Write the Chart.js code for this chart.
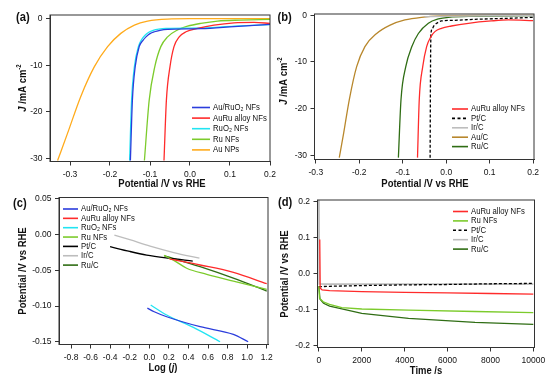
<!DOCTYPE html>
<html>
<head>
<meta charset="utf-8">
<script src="https://cdn.jsdelivr.net/npm/chart.js@4.4.1/dist/chart.umd.min.js"></script>
<style>
  body { margin: 0; background: #fff; }
  #wrap { position: relative; width: 554px; height: 383px; }
  canvas { position: absolute; left: 0; top: 0; }
</style>
</head>
<body>
<div id="wrap">
  <canvas id="ca" width="554" height="383"></canvas>
  <canvas id="cb" width="554" height="383"></canvas>
  <canvas id="cc" width="554" height="383"></canvas>
  <canvas id="cd" width="554" height="383"></canvas>
</div>
<script>
// ---- panel (a): LSV, J vs potential ----
const aLabels = ['Au/RuO\u2082 NFs', 'AuRu alloy NFs', 'RuO\u2082 NFs', 'Ru NFs', 'Au NPs'];
const aAuRuO2X = [-0.149, -0.144, -0.137, -0.127, -0.118, -0.110, -0.100, -0.089, -0.075, -0.056, 0.027, 0.11, 0.2];
const aAuRuO2Y = [-30.5, -17.5, -10.3, -6.0, -4.7, -3.9, -3.2, -2.8, -2.5, -2.3, -2.15, -1.7, -1.2];
const aAuRuX = [-0.065, -0.059, -0.05, -0.04, -0.027, -0.01, 0.019, 0.06, 0.11, 0.16, 0.2];
const aAuRuY = [-30.5, -17.5, -10.3, -6.0, -3.9, -2.8, -2.1, -1.4, -0.9, -0.8, -1.0];
const aRuO2X = [-0.151, -0.146, -0.139, -0.129, -0.121, -0.113, -0.103, -0.092, -0.078, -0.06, 0.03, 0.11, 0.2];
const aRuO2Y = [-30.5, -17.5, -10.3, -6.0, -4.5, -3.6, -2.9, -2.5, -2.25, -2.1, -2.0, -1.6, -1.25];
const aRuX = [-0.114, -0.102, -0.088, -0.073, -0.056, -0.031, -0.006, 0.027, 0.069, 0.127, 0.2];
const aRuY = [-30.5, -17.5, -10.3, -6.0, -3.9, -2.4, -1.6, -1.0, -0.5, -0.29, -0.14];
const aAuX = [-0.331, -0.306, -0.273, -0.239, -0.206, -0.173, -0.139, -0.106, -0.056, 0.0, 0.2];
const aAuY = [-30.5, -24.6, -16.7, -10.3, -6.0, -3.15, -1.36, -0.5, -0.07, 0.0, 0.0];
const aXTicks = [-0.3, -0.2, -0.1, 0.0, 0.1, 0.2];
const aYTicks = [-30, -20, -10, 0];

// ---- panel (b): LSV of commercial catalysts ----
const bLabels = ['AuRu alloy NFs', 'Pt/C', 'Ir/C', 'Au/C', 'Ru/C'];
const bAuRuX = [-0.066, -0.062, -0.054, -0.045, -0.035, -0.026, -0.011, 0.012, 0.051, 0.104, 0.143, 0.2];
const bAuRuY = [-30.5, -18.1, -11.0, -6.7, -4.57, -3.5, -2.79, -2.29, -1.71, -1.21, -1.0, -1.14];
const bPtX = [-0.037, -0.036, -0.035, -0.032, -0.028, -0.022, -0.011, 0.02, 0.066, 0.143, 0.2];
const bPtY = [-30.5, -10, -3.9, -2.9, -2.2, -1.71, -1.21, -1.07, -0.86, -0.64, -0.43];
const bIrX = [-0.05, 0.0, 0.1, 0.2];
const bIrY = [-0.3, -0.2, -0.1, -0.05];
const bAuX = [-0.246, -0.236, -0.223, -0.206, -0.187, -0.16, -0.129, -0.095, -0.057, -0.011, 0.1, 0.2];
const bAuY = [-30.5, -25.3, -18.1, -11.0, -6.7, -3.9, -2.1, -1.0, -0.43, -0.14, -0.02, 0];
const bRuX = [-0.110, -0.104, -0.093, -0.079, -0.064, -0.041, -0.018, 0.005, 0.066, 0.2];
const bRuY = [-30.5, -18.1, -11.0, -6.7, -3.9, -1.7, -0.79, -0.43, -0.21, -0.07];
const bXTicks = [-0.3, -0.2, -0.1, 0.0, 0.1, 0.2];
const bYTicks = [-30, -20, -10, 0];

// ---- panel (c): Tafel plots ----
const cLabels = ['Au/RuO\u2082 NFs', 'AuRu alloy NFs', 'RuO\u2082 NFs', 'Ru NFs', 'Pt/C', 'Ir/C', 'Ru/C'];
const cAuRuO2X = [-0.02, 0.05, 0.178, 0.519, 0.859, 1.01];
const cAuRuO2Y = [-0.103, -0.108, -0.115, -0.129, -0.1397, -0.15];
const cAuRuX = [0.205, 0.519, 0.86, 1.2];
const cAuRuY = [-0.034, -0.0425, -0.0528, -0.0687];
const cRuO2X = [0.014, 0.178, 0.45, 0.723];
const cRuO2Y = [-0.0986, -0.1126, -0.130, -0.15];
const cRuX = [0.15, 0.263, 0.382, 0.587, 0.859, 1.2];
const cRuY = [-0.029, -0.037, -0.047, -0.0556, -0.065, -0.0766];
const cPtX = [-0.401, -0.2, -0.027, 0.2, 0.444];
const cPtY = [-0.0168, -0.0235, -0.0285, -0.033, -0.037];
const cIrX = [-0.357, -0.2, 0.008, 0.25, 0.512];
const cIrY = [-0.0005, -0.007, -0.016, -0.025, -0.033];
const cRuCX = [0.151, 0.519, 0.859, 1.2];
const cRuCY = [-0.0294, -0.0449, -0.061, -0.079];
const cXTicks = [-0.8, -0.6, -0.4, -0.2, 0.0, 0.2, 0.4, 0.6, 0.8, 1.0, 1.2];
const cYTicks = [0.05, 0.00, -0.05, -0.10, -0.15];

// ---- panel (d): chronopotentiometry ----
const dLabels = ['AuRu alloy NFs', 'Ru NFs', 'Pt/C', 'Ir/C', 'Ru/C'];
const dAuRuT = [40, 60, 150, 500, 2000, 4000, 6000, 8000, 10000];
const dAuRuY = [0.095, -0.04, -0.045, -0.047, -0.05, -0.052, -0.053, -0.055, -0.057];
const dRuT = [0, 30, 200, 500, 1070, 2000, 4180, 7280, 10000];
const dRuY = [-0.035, -0.068, -0.078, -0.085, -0.094, -0.098, -0.101, -0.105, -0.108];
const dPtT = [0, 500, 2000, 4000, 6000, 8000, 10000];
const dPtY = [-0.036, -0.035, -0.033, -0.031, -0.030, -0.028, -0.027];
const dIrT = [0, 20, 500, 10000];
const dIrY = [0.21, -0.028, -0.029, -0.029];
const dRuCT = [0, 50, 217, 500, 1070, 2000, 4180, 7280, 10000];
const dRuCY = [-0.035, -0.07, -0.082, -0.09, -0.098, -0.11, -0.124, -0.135, -0.141];
const dXTicks = [0, 2000, 4000, 6000, 8000, 10000];
const dYTicks = [0.2, 0.1, 0.0, -0.1, -0.2];

const C = {
  blue: '#2b3ddc', red: '#ff2b2b', cyan: '#22e4f2', green: '#7ccb2c', orange: '#ffab1c',
  brown: '#b8872c', dkgreen: '#2f6d14', black: '#000000', gray: '#bdbdbd'
};

const SQ = 0.86; // the figure's text is a little condensed
const TICK_FONT = "'Liberation Sans', Arial, sans-serif";

function pts(xs, ys) { return xs.map((x, i) => ({ x: x, y: ys[i] })); }

function ds(label, xs, ys, color, extra) {
  return Object.assign({
    label: label, data: pts(xs, ys), borderColor: color, backgroundColor: color,
    borderWidth: 1.3, pointRadius: 0, fill: false, cubicInterpolationMode: 'monotone'
  }, extra || {});
}

function rich(ctx, x, y, segs, opt) {
  opt = opt || {};
  ctx.save();
  ctx.translate(x, y);
  if (opt.rot) ctx.rotate(-Math.PI / 2);
  ctx.scale(SQ, 1);
  let w = 0;
  segs.forEach(s => { ctx.font = s.f; w += ctx.measureText(s.t).width; });
  let cx = opt.left ? 0 : -w / 2;
  ctx.textBaseline = 'middle';
  ctx.fillStyle = '#111';
  segs.forEach(s => {
    ctx.font = s.f;
    ctx.fillText(s.t, cx, s.dy || 0);
    cx += ctx.measureText(s.t).width;
  });
  ctx.restore();
}

const B11 = "bold 11px 'Liberation Sans', Arial, sans-serif";
const BI11 = "italic bold 11px 'Liberation Sans', Arial, sans-serif";
const B7 = "bold 7px 'Liberation Sans', Arial, sans-serif";
const B13 = "bold 13px 'Liberation Sans', Arial, sans-serif";
const N9 = "9px 'Liberation Sans', Arial, sans-serif";

function legend(chart, lg) {
  const ctx = chart.ctx;
  chart.data.datasets.forEach((d, i) => {
    const y = lg.y + i * lg.dy;
    ctx.save();
    ctx.strokeStyle = d.borderColor;
    ctx.lineWidth = 1.6;
    if (d.borderDash) ctx.setLineDash([3, 2.5]);
    ctx.beginPath();
    ctx.moveTo(lg.x, y);
    ctx.lineTo(lg.x + lg.len, y);
    ctx.stroke();
    ctx.restore();
    rich(ctx, lg.x + lg.len + 3, y, [{ t: d.label, f: N9 }], { left: true });
  });
}

const decor = {
  id: 'decor',
  afterDraw(chart) {
    const ctx = chart.ctx, a = chart.chartArea, o = chart.options.plugins.decor;
    ctx.save();
    ctx.strokeStyle = '#333';
    ctx.lineWidth = 1;
    ctx.strokeRect(a.left, a.top, a.right - a.left, a.bottom - a.top);
    ctx.restore();
    legend(chart, o.legend);
    rich(ctx, o.letter[0], o.letter[1], [{ t: o.letter[2], f: B13 }], { left: true });
    rich(ctx, o.xt[0], o.xt[1], o.xt[2]);
    rich(ctx, o.yt[0], o.yt[1], o.yt[2], { rot: true });
  }
};

function axis(min, max, ticks, dec, pos, size) {
  return {
    type: 'linear', min: min, max: max,
    afterBuildTicks: s => { s.ticks = ticks.map(v => ({ value: v })); },
    afterFit: s => { if (pos === 'x') s.height = size; else s.width = size; },
    ticks: {
      autoSkip: false, maxRotation: 0, padding: pos === 'x' ? 4 : 3.5, color: '#111',
      font: { family: TICK_FONT, size: 8.5 },
      callback: v => v.toFixed(dec)
    },
    grid: { drawOnChartArea: false, drawTicks: true, tickLength: 4, color: '#333' },
    border: { display: true, color: '#333', width: 1 }
  };
}

function make(id, box, xa, ya, datasets, deco) {
  new Chart(document.getElementById(id), {
    type: 'line',
    data: { datasets: datasets },
    options: {
      responsive: false, animation: false, parsing: true,
      layout: { padding: { left: box.L - 30, right: 554 - box.R, top: box.T, bottom: 383 - box.B - 30 } },
      scales: { x: xa, y: ya },
      plugins: { legend: { display: false }, tooltip: { enabled: false }, decor: deco }
    },
    plugins: [decor]
  });
}

const potTitle = [{ t: 'Potential /V vs RHE', f: B11 }];
const jTitle = [{ t: 'J', f: BI11 }, { t: ' /mA cm', f: B11 }, { t: '-2', f: B7, dy: -4 }];

make('ca', { L: 50, R: 270, T: 15, B: 161.5 },
  axis(-0.35, 0.2, aXTicks, 1, 'x', 30), axis(-30.7, 0.8, aYTicks, 0, 'y', 30),
  [
    ds(aLabels[0], aAuRuO2X, aAuRuO2Y, C.blue),
    ds(aLabels[1], aAuRuX, aAuRuY, C.red),
    ds(aLabels[2], aRuO2X, aRuO2Y, C.cyan),
    ds(aLabels[3], aRuX, aRuY, C.green),
    ds(aLabels[4], aAuX, aAuY, C.orange)
  ],
  { legend: { x: 192, y: 107.5, dy: 10.6, len: 18 }, letter: [16, 17, '(a)'],
    xt: [162, 184, potTitle], yt: [23, 88, jTitle] });

make('cb', { L: 314.5, R: 534, T: 14, B: 159.5 },
  axis(-0.303, 0.202, bXTicks, 1, 'x', 30), axis(-30.9, 0.28, bYTicks, 0, 'y', 30),
  [
    ds(bLabels[0], bAuRuX, bAuRuY, C.red),
    ds(bLabels[1], bPtX, bPtY, C.black, { borderDash: [3, 2] }),
    ds(bLabels[2], bIrX, bIrY, C.gray),
    ds(bLabels[3], bAuX, bAuY, C.brown),
    ds(bLabels[4], bRuX, bRuY, C.dkgreen)
  ],
  { legend: { x: 452, y: 109, dy: 9.4, len: 16 }, letter: [277.5, 17, '(b)'],
    xt: [425, 183.5, potTitle], yt: [284, 81, jTitle] });

make('cc', { L: 59, R: 268, T: 197.5, B: 344.5 },
  axis(-0.923, 1.213, cXTicks, 1, 'x', 30), axis(-0.1539, 0.0521, cYTicks, 2, 'y', 30),
  [
    ds(cLabels[0], cAuRuO2X, cAuRuO2Y, C.blue),
    ds(cLabels[1], cAuRuX, cAuRuY, C.red),
    ds(cLabels[2], cRuO2X, cRuO2Y, C.cyan),
    ds(cLabels[3], cRuX, cRuY, C.green),
    ds(cLabels[4], cPtX, cPtY, C.black),
    ds(cLabels[5], cIrX, cIrY, C.gray),
    ds(cLabels[6], cRuCX, cRuCY, C.dkgreen)
  ],
  { legend: { x: 63, y: 209, dy: 9.35, len: 15 }, letter: [13, 203.5, '(c)'],
    xt: [163, 367.5, [{ t: 'Log (', f: B11 }, { t: 'j', f: BI11 }, { t: ')', f: B11 }]],
    yt: [23, 271, potTitle] });

make('cd', { L: 317.5, R: 534.5, T: 200, B: 347.5 },
  axis(-65, 10056, dXTicks, 0, 'x', 30), axis(-0.205, 0.2047, dYTicks, 1, 'y', 30),
  [
    ds(dLabels[0], dAuRuT, dAuRuY, C.red, { cubicInterpolationMode: 'default', tension: 0 }),
    ds(dLabels[1], dRuT, dRuY, C.green, { cubicInterpolationMode: 'default', tension: 0 }),
    ds(dLabels[2], dPtT, dPtY, C.black, { borderDash: [3, 2], cubicInterpolationMode: 'default', tension: 0 }),
    ds(dLabels[3], dIrT, dIrY, C.gray, { borderWidth: 1.8, cubicInterpolationMode: 'default', tension: 0 }),
    ds(dLabels[4], dRuCT, dRuCY, C.dkgreen, { cubicInterpolationMode: 'default', tension: 0 })
  ],
  { legend: { x: 453, y: 211.5, dy: 9.4, len: 15 }, letter: [278, 202.5, '(d)'],
    xt: [426, 370.5, [{ t: 'Time /s', f: B11 }]], yt: [285, 274, potTitle] });
</script>
</body>
</html>
